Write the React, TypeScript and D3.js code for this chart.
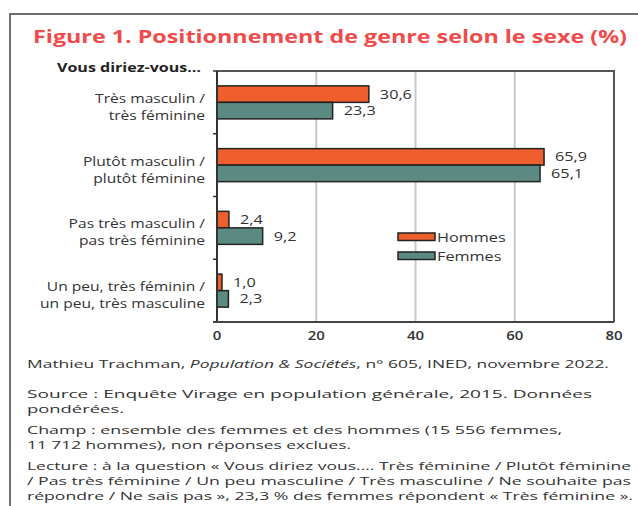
import React from "react";
import * as d3 from "d3";

const categoriesLine1 = ["Très masculin /", "Plutôt masculin /", "Pas très masculin /", "Un peu, très féminin /"];
const categoriesLine2 = ["très féminine", "plutôt féminine", "pas très féminine", "un peu, très masculine"];
const hommes = [30.6, 65.9, 2.4, 1.0];
const femmes = [23.3, 65.1, 9.2, 2.3];
const seriesNames = ["Hommes", "Femmes"];
const xTicks = [0, 20, 40, 60, 80];

const TITLE = "Figure 1. Positionnement de genre selon le sexe (%)";
const QUESTION = "Vous diriez-vous…";

const ORANGE = "#EF5F2D";
const TEAL = "#5B8A82";
const TXT = "#333";
const FONT = "'Open Sans', sans-serif";

const fmt = (v: number) => v.toFixed(1).replace(".", ",");

function ST({ x, y, sx = 1.2, anchor = "start", size = 13, weight = 400, fill = TXT, children, style }: any) {
  return (
    <text
      transform={`translate(${x},${y}) scale(${sx},1)`}
      textAnchor={anchor}
      fontSize={size}
      fontWeight={weight}
      fill={fill}
      fontFamily={FONT}
      style={style}
    >
      {children}
    </text>
  );
}

export default function App() {
  const W = 638, H = 506;
  const left = 217, right = 614, top = 71, bottom = 322;
  const x = d3.scaleLinear().domain([0, 80]).range([left, right]);
  const keys = categoriesLine1.map((_, i) => String(i));
  const y = d3.scaleBand().domain(keys).range([top, bottom]).padding(0);
  const bh = 16.5;
  const boundaries = [top, ...keys.slice(1).map((k) => y(k) as number), bottom];

  const foot = [
    { y: 368, w: 582, parts: [["Mathieu Trachman, ", false], ["Population & Sociétés", true], [", n° 605, INED, novembre 2022.", false]] },
    { y: 398, w: 565, parts: [["Source : Enquête Virage en population générale, 2015. Données", false]] },
    { y: 413, w: 97, parts: [["pondérées.", false]] },
    { y: 434, w: 535, parts: [["Champ : ensemble des femmes et des hommes (15 556 femmes,", false]] },
    { y: 449, w: 324, parts: [["11 712 hommes), non réponses exclues.", false]] },
    { y: 470, w: 604, parts: [["Lecture : à la question « Vous diriez vous.... Très féminine / Plutôt féminine", false]] },
    { y: 485, w: 604, parts: [["/ Pas très féminine / Un peu masculine / Très masculine / Ne souhaite pas", false]] },
    { y: 500, w: 606, parts: [["répondre / Ne sais pas », 23,3 % des femmes répondent « Très féminine ».", false]] },
  ];

  return (
    <svg width={W} height={H} style={{ position: "absolute", left: 0, top: 0, background: "#fff" }}>
      <rect x={0} y={0} width={W} height={H} fill="#fff" />
      {/* outer frame */}
      <path d={`M10,${H} L10,14 L${W},14`} fill="none" stroke="#6e6e6e" strokeWidth={2} />

      {/* title */}
      <text x={33} y={43} fontSize={18.5} fontWeight={700} fill="#EF4B4B" fontFamily={FONT}
        textLength={594} lengthAdjust="spacingAndGlyphs">{TITLE}</text>
      <text x={57} y={72} fontSize={12.5} fontWeight={700} fill="#222" fontFamily={FONT}
        textLength={144} lengthAdjust="spacingAndGlyphs">{QUESTION}</text>

      {/* gridlines */}
      {xTicks.slice(1, -1).map((t) => (
        <line key={t} x1={x(t)} x2={x(t)} y1={top} y2={bottom} stroke="#c9c9c9" strokeWidth={2} />
      ))}

      {/* bars */}
      {keys.map((k, i) => {
        const c = (y(k) as number) + y.bandwidth() / 2;
        return (
          <g key={k}>
            <rect x={x(0)} y={c - bh} width={x(hommes[i]) - x(0)} height={bh} fill={ORANGE} stroke="#222" strokeWidth={1.5} />
            <rect x={x(0)} y={c} width={x(femmes[i]) - x(0)} height={bh} fill={TEAL} stroke="#222" strokeWidth={1.5} />
            <ST x={x(hommes[i]) + 11} y={c - bh / 2 + 4.5} sx={1.25}>{fmt(hommes[i])}</ST>
            <ST x={x(femmes[i]) + 11} y={c + bh / 2 + 4.5} sx={1.25}>{fmt(femmes[i])}</ST>
            <ST x={205} y={c + 0.5} anchor="end">{categoriesLine1[i]}</ST>
            <ST x={205} y={c + 17.5} anchor="end">{categoriesLine2[i]}</ST>
          </g>
        );
      })}

      {/* frame */}
      <path d={`M${left},${top} L${right},${top} L${right},${bottom}`} fill="none" stroke="#555" strokeWidth={2} />
      <line x1={left} x2={left} y1={top} y2={bottom} stroke="#333" strokeWidth={2} />
      <line x1={left - 4} x2={right} y1={bottom} y2={bottom} stroke="#444" strokeWidth={2} />
      {boundaries.slice(0, -1).map((b, i) => (
        <line key={i} x1={left - 4} x2={left} y1={b} y2={b} stroke="#333" strokeWidth={1.5} />
      ))}

      {/* x tick labels */}
      {xTicks.map((t) => (
        <ST key={t} x={x(t)} y={340} anchor="middle" size={12.5} weight={600}>{t}</ST>
      ))}

      {/* legend */}
      {seriesNames.map((s, i) => (
        <g key={s}>
          <rect x={398} y={233 + i * 19} width={37} height={7.5} fill={i === 0 ? ORANGE : TEAL} stroke="#222" strokeWidth={1.5} />
          <ST x={437} y={241.5 + i * 19} sx={1.25}>{s}</ST>
        </g>
      ))}

      {/* footnotes */}
      {foot.map((f, i) => (
        <text key={i} x={27} y={f.y} fontSize={11} fill={TXT} fontFamily={FONT}
          textLength={f.w} lengthAdjust="spacingAndGlyphs">
          {f.parts.map((p: any, j: number) => (
            <tspan key={j} fontStyle={p[1] ? "italic" : "normal"}>{p[0]}</tspan>
          ))}
        </text>
      ))}
    </svg>
  );
}
